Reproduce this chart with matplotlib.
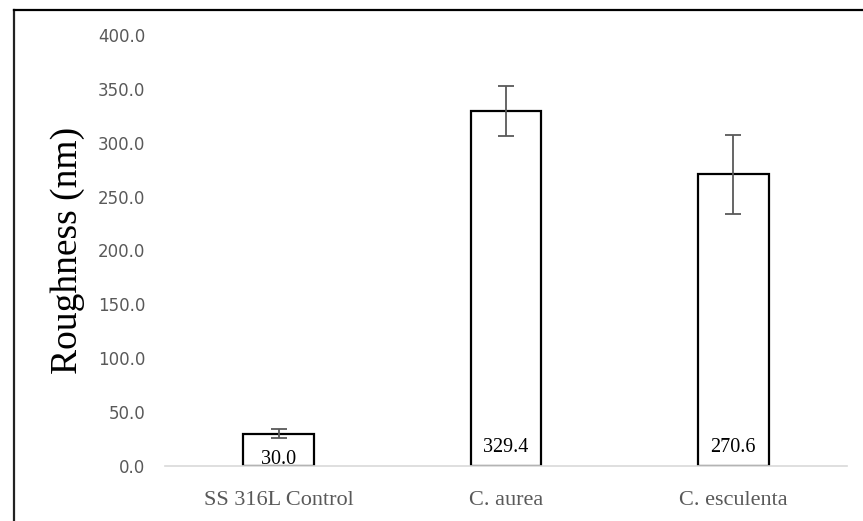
import matplotlib
matplotlib.use("Agg")
import matplotlib.pyplot as plt
from matplotlib.lines import Line2D

categories = ["SS 316L Control", "C. aurea", "C. esculenta"]
values = [30.0, 329.4, 270.6]
errors = [4.0, 23.5, 36.5]
value_labels = ["30.0", "329.4", "270.6"]
yticks = [0, 50, 100, 150, 200, 250, 300, 350, 400]

fig = plt.figure(figsize=(8.63, 5.21), dpi=100)
ax = fig.add_axes([0.1912, 0.1056, 0.7903, 0.8273])

x = list(range(len(categories)))
ax.bar(x, values, width=0.312, color="white", edgecolor="black", linewidth=1.6, zorder=2)
ax.errorbar(x, values, yerr=errors, fmt="none", ecolor="#595959", elinewidth=1.3,
            capsize=5.5, capthick=1.3, zorder=3)

label_offsets = [6, 18, 18]  # pixels above base
for xi, lab, off in zip(x, value_labels, label_offsets):
    ax.annotate(lab, (xi, 0), xytext=(0, off * 0.72), textcoords="offset points",
                ha="center", va="center", fontsize=14.5, family="Liberation Serif",
                color="black", zorder=4)

ax.set_xlim(-0.5, 2.5)
ax.set_ylim(0, 400)
ax.set_yticks(yticks)
ax.set_yticklabels([f"{t:.1f}" for t in yticks], fontsize=12, color="#595959",
                   family="DejaVu Sans")
ax.set_xticks(x)
ax.set_xticklabels(categories, fontsize=16, color="#595959", family="Liberation Serif")
ax.tick_params(axis="both", length=0)
ax.tick_params(axis="y", pad=14)
ax.tick_params(axis="x", pad=18)

for s in ["top", "right", "left"]:
    ax.spines[s].set_visible(False)
ax.spines["bottom"].set_color("#d9d9d9")
ax.spines["bottom"].set_linewidth(1.2)

fig.text(68 / 863, 1 - 250 / 521, "Roughness (nm)", rotation=90, ha="center", va="center",
         fontsize=27, family="Liberation Serif", color="black")

# outer frame (left and top)
W, H = 863, 521
fig.add_artist(Line2D([14 / W, 14 / W], [0, 1 - 10 / H], color="#222222", linewidth=1.6,
                      transform=fig.transFigure))
fig.add_artist(Line2D([14 / W, 1], [1 - 10 / H, 1 - 10 / H], color="black", linewidth=1.6,
                      transform=fig.transFigure))

fig.savefig("out.png", dpi=100)
